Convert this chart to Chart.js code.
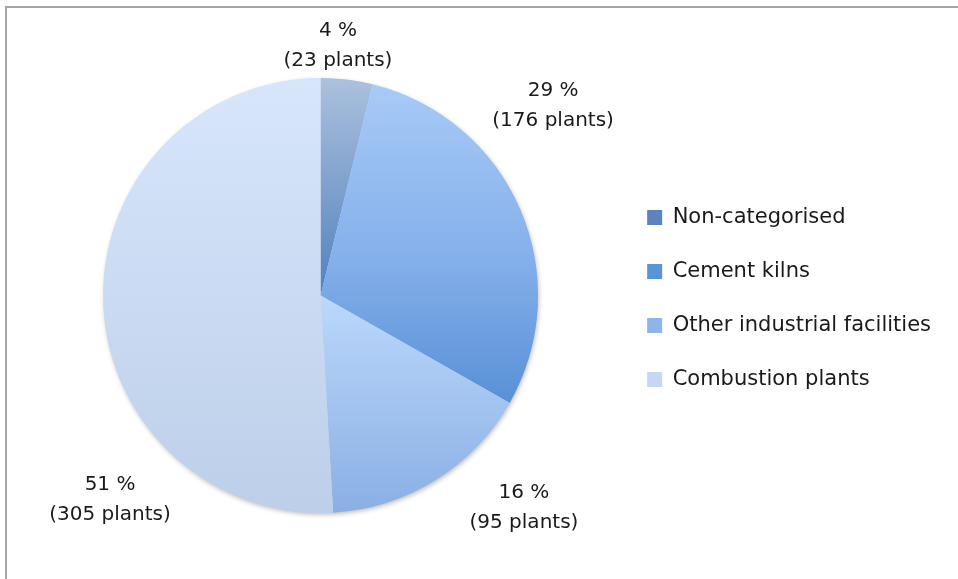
<!DOCTYPE html>
<html>
<head>
<meta charset="utf-8">
<script src="https://cdn.jsdelivr.net/npm/chart.js@4.4.1/dist/chart.umd.min.js"></script>
<style>
  html, body { margin: 0; padding: 0; background: #fff; }
  #wrap { position: relative; width: 958px; height: 579px; overflow: hidden; }
  #frame { position: absolute; left: 5px; top: 6px; width: 1000px; height: 1000px;
           border-left: 2px solid #a6a6a6; border-top: 2px solid #a6a6a6; }
  canvas { position: absolute; left: 0; top: 0; }
</style>
</head>
<body>
<div id="wrap">
  <div id="frame"></div>
  <canvas id="c" width="958" height="579"></canvas>
</div>
<script>
// ---- data ----
const categories = ["Non-categorised", "Cement kilns", "Other industrial facilities", "Combustion plants"];
const plantCounts = [23, 176, 95, 305];
const percentLabels = [4, 29, 16, 51];

// ---- styles ----
const gradientStops = [
  [[0, "#abc1de"], [0.5, "#5281bd"]],
  [[0, "#a9cbf7"], [0.4, "#86b1eb"], [0.75, "#5890d6"], [1, "#5890d6"]],
  [[0.5, "#bcd8fb"], [1, "#89afe4"]],
  [[0, "#d7e6fb"], [1, "#bdcfe9"]]
];
const legendColors = ["#5a84bc", "#5b93d9", "#8db5eb", "#c5d7f2"];
// label block centres relative to pie centre, in units of the radius
const labelOffsets = [[0.08, -1.147], [1.069, -0.871], [0.935, 0.975], [-0.968, 0.938]];
const legendShiftY = 3;
const textColor = "#1a1a1a";

function sliceFill(ctx) {
  const chart = ctx.chart;
  const area = chart.chartArea;
  const i = ctx.dataIndex;
  if (!area) return legendColors[i];
  const cy = (area.top + area.bottom) / 2;
  const r = Math.min(area.right - area.left, area.bottom - area.top) / 2;
  const g = chart.ctx.createLinearGradient(0, cy - r, 0, cy + r);
  gradientStops[i].forEach(s => g.addColorStop(s[0], s[1]));
  return g;
}

const shadowPlugin = {
  id: "pieShadow",
  afterLayout(chart) {
    if (chart.legend) {
      chart.legend.top += legendShiftY;
      chart.legend.bottom += legendShiftY;
    }
  },
  beforeDatasetsDraw(chart) {
    const arc = chart.getDatasetMeta(0).data[0];
    if (!arc) return;
    const c = chart.ctx;
    c.save();
    c.shadowColor = "rgba(0,0,0,0.28)";
    c.shadowBlur = 5;
    c.shadowOffsetX = 1;
    c.shadowOffsetY = 2;
    c.fillStyle = "#c9daf2";
    c.beginPath();
    c.arc(arc.x, arc.y, arc.outerRadius - 0.5, 0, Math.PI * 2);
    c.fill();
    c.restore();
  }
};

const labelPlugin = {
  id: "sliceLabels",
  afterDatasetsDraw(chart) {
    const meta = chart.getDatasetMeta(0);
    const c = chart.ctx;
    c.save();
    c.fillStyle = textColor;
    c.font = "20px 'DejaVu Sans'";
    c.textAlign = "center";
    c.textBaseline = "middle";
    meta.data.forEach((arc, i) => {
      const x = arc.x + labelOffsets[i][0] * arc.outerRadius;
      const y = arc.y + labelOffsets[i][1] * arc.outerRadius;
      c.fillText(percentLabels[i] + " %", x, y - 15);
      c.fillText("(" + plantCounts[i] + " plants)", x, y + 15);
    });
    c.restore();
  }
};

new Chart(document.getElementById("c"), {
  type: "pie",
  data: {
    labels: categories,
    datasets: [{
      data: plantCounts,
      backgroundColor: sliceFill,
      borderWidth: 0
    }]
  },
  options: {
    responsive: false,
    animation: false,
    events: [],
    layout: { padding: { left: 27, right: 17, top: 78, bottom: 66 } },
    plugins: {
      tooltip: { enabled: false },
      legend: {
        position: "right",
        align: "center",
        labels: {
          boxWidth: 15,
          boxHeight: 15,
          padding: 33,
          color: textColor,
          font: { family: "DejaVu Sans", size: 21 },
          generateLabels(chart) {
            const items = Chart.overrides.pie.plugins.legend.labels.generateLabels(chart);
            items.forEach((it, i) => {
              it.fillStyle = legendColors[i];
              it.strokeStyle = legendColors[i];
              it.lineWidth = 0;
            });
            return items;
          }
        }
      }
    }
  },
  plugins: [shadowPlugin, labelPlugin]
});
</script>
</body>
</html>
